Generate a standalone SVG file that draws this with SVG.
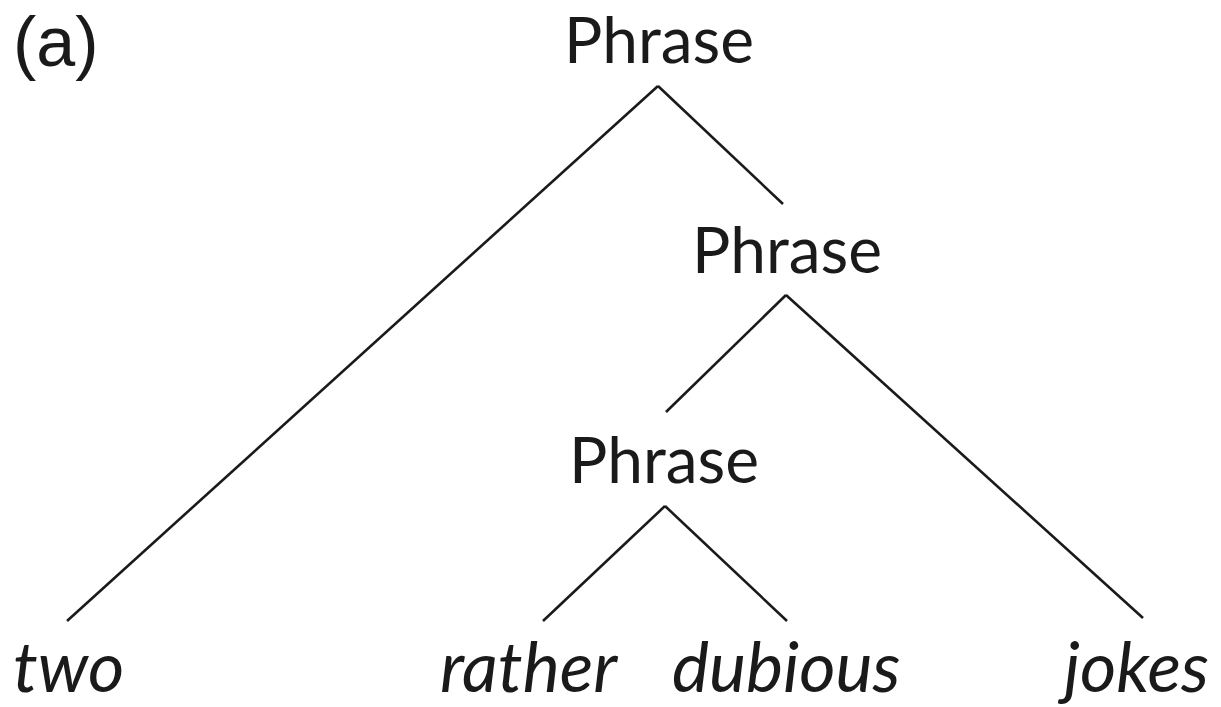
<svg xmlns="http://www.w3.org/2000/svg" width="1221" height="707" viewBox="0 0 1221 707">
<style>
text{font-family:Lato,"Open Sans","Liberation Sans",sans-serif;fill:#1a1a1a}
.cat{font-size:64px;text-anchor:middle}
.lab{font-family:"Liberation Sans",Arial,sans-serif;font-size:70px}
.leaf{font-size:70px;font-style:italic}
.edge{stroke:#1a1a1a;stroke-width:2.6;fill:none;stroke-linecap:butt}
</style>
<rect width="1221" height="707" fill="#fff"/>
<text class="lab" x="13" y="66">(a)</text>
<g id="connectors">
<line class="edge" x1="658" y1="86" x2="67" y2="621"/>
<line class="edge" x1="658" y1="86" x2="783" y2="204"/>
<line class="edge" x1="786" y1="295" x2="666" y2="412"/>
<line class="edge" x1="786" y1="295" x2="1143" y2="618"/>
<line class="edge" x1="665" y1="506" x2="543" y2="621"/>
<line class="edge" x1="665" y1="506" x2="787" y2="621"/>
</g>
<g id="n1"><text class="cat" x="659" y="63">Phrase</text></g>
<g id="n2"><text class="cat" x="787" y="273">Phrase</text></g>
<g id="n3"><text class="cat" x="664" y="483">Phrase</text></g>
<g id="leaf-two"><text class="leaf" x="13" y="692">two</text></g>
<g id="leaf-rather"><text class="leaf" x="440" y="692">rather</text></g>
<g id="leaf-dubious"><text class="leaf" x="672" y="692">dubious</text></g>
<g id="leaf-jokes"><text class="leaf" x="1064" y="692">jokes</text></g>
</svg>
